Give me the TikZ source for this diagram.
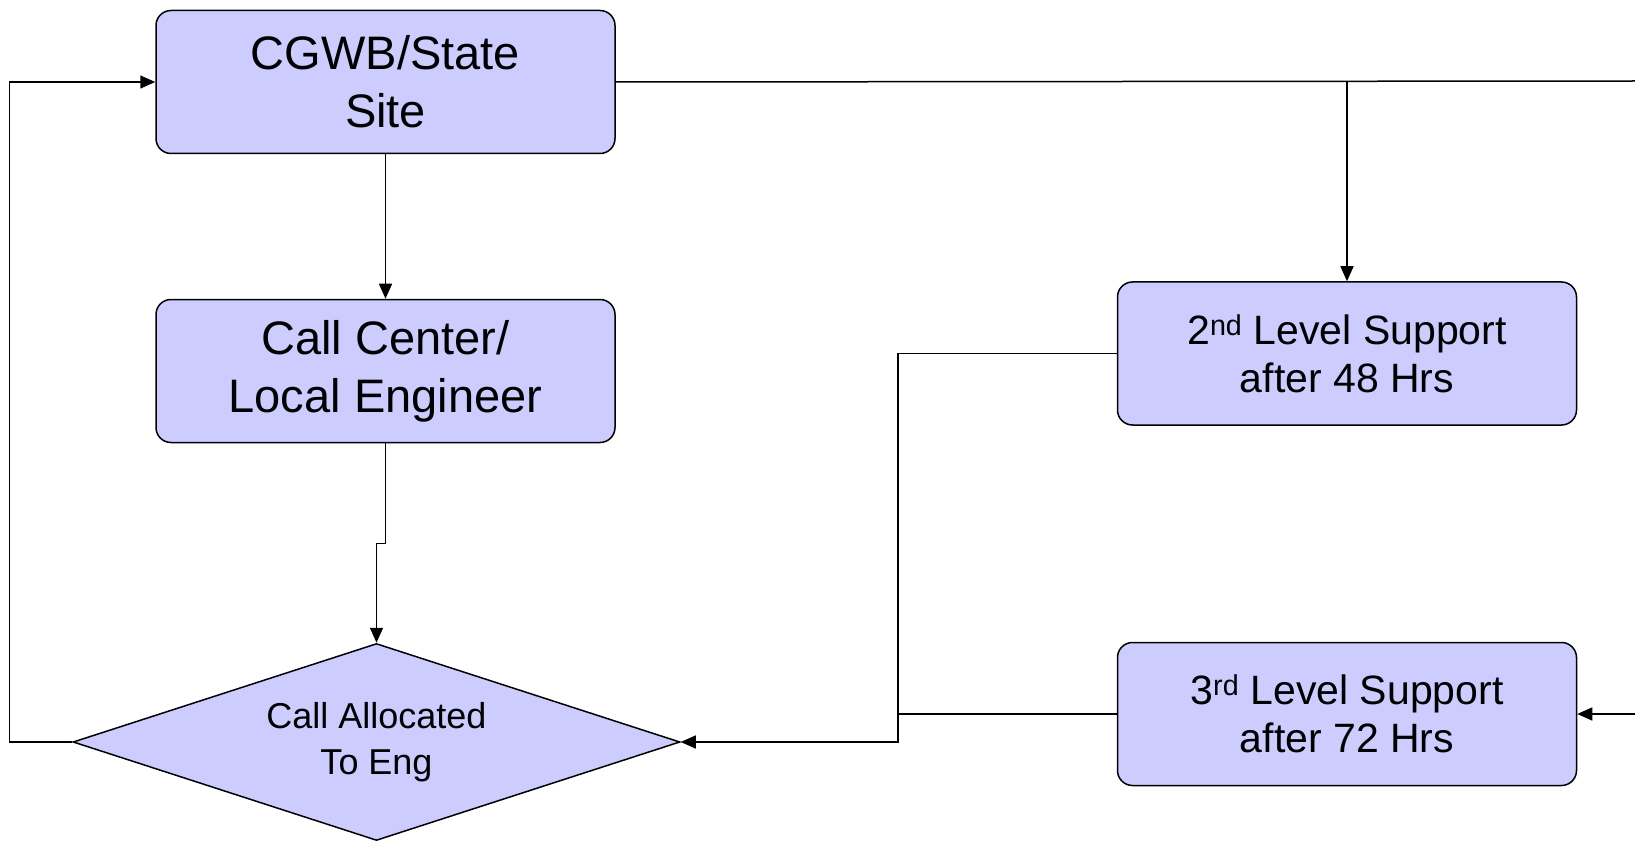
\documentclass[tikz,border=0pt]{standalone}
\usepackage{fontspec}
\setmainfont{Liberation Sans}
\usepackage{xcolor}
\usepackage{tikz}
\usetikzlibrary{arrows.meta,shapes.geometric}
\definecolor{boxblue}{HTML}{CCCCFF}

\begin{document}
\begin{tikzpicture}[x=1pt, y=-1pt,
        box/.style={draw, fill=boxblue, rounded corners=15pt, line width=1.5pt,
                minimum width=459pt, minimum height=143pt, inner sep=0pt, align=center},
        decision/.style={draw, fill=boxblue, diamond, aspect=3.08, line width=1.5pt,
                minimum width=607pt, minimum height=197pt, inner sep=0pt, align=center},
        link/.style={line width=1.5pt, -{Triangle[length=15pt, width=13pt]}},
        plain/.style={line width=1.5pt},
        big/.style={font=\fontsize{47}{58}\selectfont},
        mid/.style={font=\fontsize{41}{48}\selectfont},
        small/.style={font=\fontsize{36}{46}\selectfont}]
        \useasboundingbox (0,0) rectangle (1635,842);
        % boxes
        \node[box, big] (site) at (385.5,82) {CGWB/State\\Site};
        \node[box, big] (center) at (385.5,371) {Call Center/\\Local Engineer};
        \node[decision, small] (alloc) at (376.5,742) {Call Allocated\\To Eng};
        \node[box, mid] (lvltwo) at (1347,353.5) {2\textsuperscript{nd} Level Support\\after 48 Hrs};
        \node[box, mid] (lvlthree) at (1347,714) {3\textsuperscript{rd} Level Support\\after 72 Hrs};
        \coordinate (topend) at (1635,81);
        \coordinate (rightin) at (1635,714);
        % connectors
        \draw[plain] (site.east) -- (topend);
        \draw[link] (site.east -| lvltwo.north) -- (lvltwo.north);
        \draw[link] (rightin) -- (lvlthree.east);
        \draw[link] (site.south -| center.north) -- (center.north);
        \draw[link] (center.south) -- ++(0,100) -| (alloc.north);
        \draw[link] (alloc.west) -- ++(-63,0) |- (site.west);
        \draw[link] (lvltwo.west) -- ++(-219,0) |- (alloc.east);
        \draw[plain] (lvlthree.west) -- ++(-219,0);
\end{tikzpicture}
\end{document}
